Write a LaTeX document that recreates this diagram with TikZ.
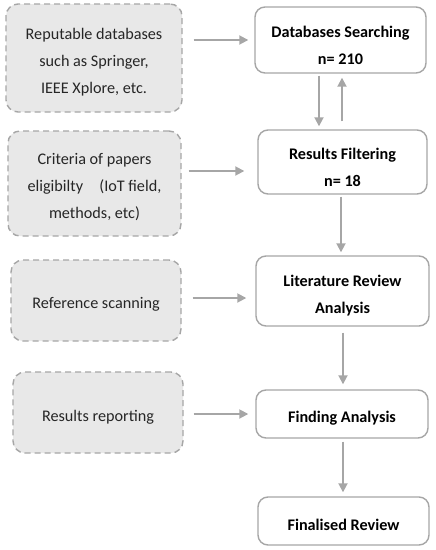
\documentclass[tikz,border=0pt]{standalone}
\usepackage{fontspec}
\setmainfont{Carlito}
\usetikzlibrary{arrows.meta}
\definecolor{boxfill}{HTML}{E8E8E8}
\definecolor{edge}{HTML}{A6A6A6}
\definecolor{txt}{HTML}{262626}
\begin{document}
\begin{tikzpicture}[x=1pt,y=-1pt,
  srcbox/.style={draw=edge, fill=boxfill, dashed, dash pattern=on 6pt off 4pt, line width=1.4pt, rounded corners=12pt, inner sep=0pt},
  srctext/.style={align=center, text=txt, font=\fontsize{16.2}{27}\selectfont, inner sep=0pt},
  stepbox/.style={draw=edge, fill=white, line width=1.4pt, rounded corners=10pt, inner sep=0pt},
  steptext/.style={align=center, text=black, font=\fontsize{16.2}{27}\selectfont\bfseries, inner sep=0pt},
  arr/.style={draw=edge, line width=1.8pt, -{Triangle[length=9pt,width=9pt]}}]
\useasboundingbox (0,0) rectangle (436,550);
\node[srcbox, minimum width=176pt, minimum height=108pt] (L1) at (94,58) {};
\node[srctext] (L1t) at ([yshift=-4pt]L1.center) {Reputable databases\\such as Springer,\\IEEE Xplore, etc.};
\node[srcbox, minimum width=173pt, minimum height=105pt] (L2) at (94.5,183.5) {};
\node[srctext] (L2t) at ([yshift=-4pt]L2.center) {Criteria of papers\\eligibilty\quad(IoT field,\\methods, etc)};
\node[srcbox, minimum width=170pt, minimum height=81pt] (L3) at (96,300.5) {};
\node[srctext] (L3t) at ([yshift=-4pt]L3.center) {Reference scanning};
\node[srcbox, minimum width=170pt, minimum height=81pt] (L4) at (98,412.5) {};
\node[srctext] (L4t) at ([yshift=-4.5pt]L4.center) {Results reporting};
\node[stepbox, minimum width=171pt, minimum height=66pt] (R1) at (340.5,40) {};
\node[steptext] (R1t) at ([yshift=-5pt]R1.center) {Databases Searching\\n= 210};
\node[stepbox, minimum width=169pt, minimum height=64pt] (R2) at (342.5,162) {};
\node[steptext] (R2t) at ([yshift=-5.5pt]R2.center) {Results Filtering\\n= 18};
\node[stepbox, minimum width=173pt, minimum height=70pt] (R3) at (342.5,291) {};
\node[steptext] (R3t) at ([yshift=-5pt]R3.center) {Literature Review\\Analysis};
\node[stepbox, minimum width=172pt, minimum height=48pt] (R4) at (342,414) {};
\node[steptext] (R4t) at ([yshift=-4.5pt]R4.center) {Finding Analysis};
\node[stepbox, minimum width=171pt, minimum height=48pt] (R5) at (343.5,521) {};
\node[steptext] (R5t) at ([yshift=-3.5pt]R5.center) {Finalised Review};
% horizontal arrows
\draw[arr, shorten <=11pt, shorten >=6pt] (L1.east |- R1.west) -- (R1.west);
\draw[arr, shorten <=7pt, shorten >=13pt] (L2.east |- 0,171) -- (R2.west |- 0,171);
\draw[arr, shorten <=11pt, shorten >=9pt] (L3.east |- 0,298) -- (R3.west |- 0,298);
\draw[arr, shorten <=10pt, shorten >=7pt] (L4.east |- R4.west) -- (R4.west);
% vertical arrows
\draw[arr, shorten <=2pt, shorten >=3pt] ([xshift=-21.5pt]R1.south) -- ([xshift=-21.5pt]R1.south |- R2.north);
\draw[arr, shorten <=8pt, shorten >=4pt] ([xshift=1.5pt]R1.south |- R2.north) -- ([xshift=1.5pt]R1.south);
\draw[arr, shorten <=2pt, shorten >=3pt] ([xshift=-1.5pt]R2.south) -- ([xshift=-1.5pt]R2.south |- R3.north);
\draw[arr, shorten <=6pt, shorten >=5pt] ([xshift=0.5pt]R3.south) -- ([xshift=0.5pt]R3.south |- R4.north);
\draw[arr, shorten <=3pt, shorten >=4pt] ([xshift=1pt]R4.south) -- ([xshift=1pt]R4.south |- R5.north);
\end{tikzpicture}
\end{document}
